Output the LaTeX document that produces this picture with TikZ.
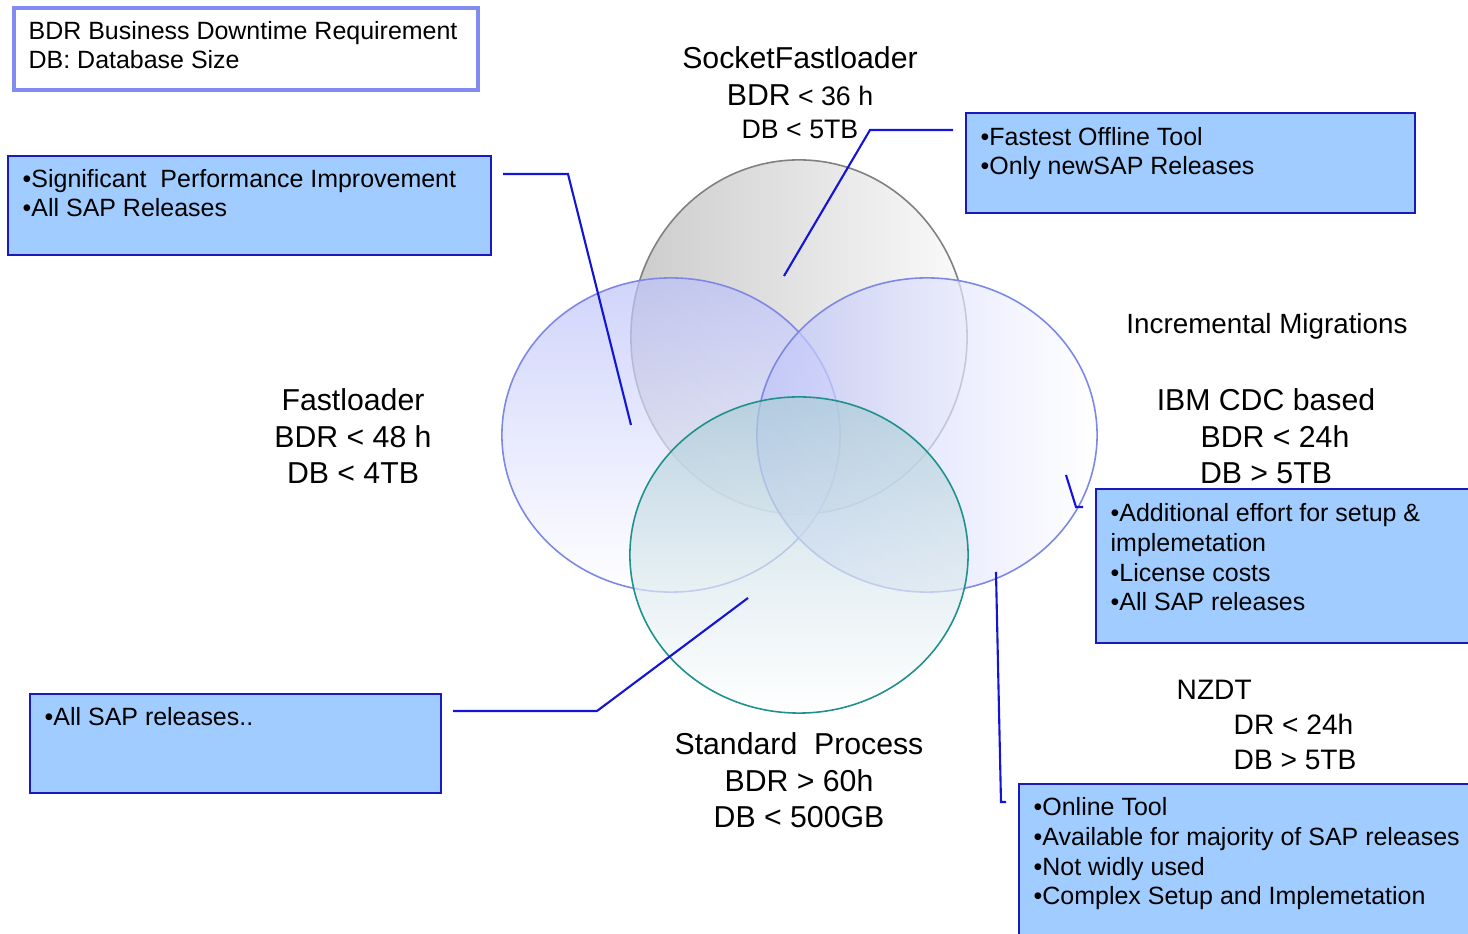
\documentclass[tikz,border=0pt]{standalone}
\usepackage{fontspec}
\setmainfont{Liberation Sans}
\usetikzlibrary{positioning}
\definecolor{boxfill}{RGB}{160,204,255}
\definecolor{boxline}{RGB}{25,25,190}
\definecolor{wirecol}{RGB}{20,20,215}
\definecolor{legline}{RGB}{130,140,240}
\definecolor{ringblue}{RGB}{125,135,230}
\definecolor{fillblue}{RGB}{188,194,250}
\definecolor{ringteal}{RGB}{30,145,140}
\definecolor{fillteal}{RGB}{172,204,216}
\tikzset{
 infobox/.style={draw=boxline,fill=boxfill,line width=0.6pt,anchor=north west,inner sep=0pt},
 infotext/.style={anchor=base west,align=left,inner sep=0pt,font=\fontsize{7.1}{8.5}\selectfont},
 tag/.style={anchor=base,align=center,inner sep=0pt,font=\fontsize{8.6}{10.5}\selectfont},
 wire/.style={draw=wirecol,line width=0.6pt},
 ring/.style={line width=0.45pt,fill opacity=0.7}
}
\begin{document}
\begin{tikzpicture}[x=0.01cm,y=-0.01cm]
\useasboundingbox (0,0) rectangle (1468,934);

\draw[ring,fill opacity=1,draw=black!50,left color=black!20,right color=black!2] (799,337) ellipse [x radius=1.68cm,y radius=1.77cm];
\draw[ring,draw=ringblue,top color=fillblue,bottom color=white] (671,435) ellipse [x radius=1.69cm,y radius=1.57cm];
\draw[ring,draw=ringblue,left color=fillblue,right color=white] (927,435) ellipse [x radius=1.70cm,y radius=1.57cm];
\draw[ring,draw=ringteal,top color=fillteal,bottom color=white] (799,555) ellipse [x radius=1.69cm,y radius=1.58cm];

\node[infobox,draw=legline,fill=white,line width=1.2pt,minimum width=4.64cm,minimum height=0.82cm] (legend) at (12,6) {};
\node[infotext] (legendtxt) at ([shift={(16,63)}]legend.north west) {BDR Business Downtime Requirement\\DB: Database Size};

\node[infobox,minimum width=4.83cm,minimum height=0.99cm] (fastbox) at (7,155) {};
\node[infotext] (fasttxt) at ([shift={(15,62)}]fastbox.north west) {•Significant~ Performance Improvement\\•All SAP Releases};
\node[infobox,minimum width=4.49cm,minimum height=1.00cm] (socketbox) at (965,112) {};
\node[infotext] (sockettxt) at ([shift={(15,63)}]socketbox.north west) {•Fastest Offline Tool\\•Only newSAP Releases};
\node[infobox,minimum width=3.80cm,minimum height=1.54cm] (cdcbox) at (1095,488) {};
\node[infotext] (cdctxt) at ([shift={(15,123)}]cdcbox.north west) {•Additional effort for setup \&\\implemetation\\•License costs\\•All SAP releases};
\node[infobox,minimum width=4.11cm,minimum height=0.99cm] (stdbox) at (29,693) {};
\node[infotext] (stdtxt) at ([shift={(15,33)}]stdbox.north west) {•All SAP releases..};
\node[infobox,minimum width=4.60cm,minimum height=1.60cm] (nzdtbox) at (1018,783) {};
\node[infotext] (nzdttxt) at ([shift={(15,122)}]nzdtbox.north west) {•Online Tool\\•Available for majority of SAP releases\\•Not widly used\\•Complex Setup and Implemetation};

\node[tag,font=\fontsize{8.6}{10.6}\selectfont] (socket) at (800,139) {SocketFastloader\\BDR{\fontsize{7.6}{9}\selectfont{} < 36 h}\\[-1.1pt]\fontsize{7.6}{9.4}\selectfont DB < 5TB};
\node[tag] (fast) at (353,484) {Fastloader\\BDR < 48 h\\DB < 4TB};
\node[tag,font=\fontsize{7.9}{10}\selectfont] (incr) at (1267,334) {Incremental Migrations};
\node[tag] (cdc) at (1266,484) {IBM CDC based\\\hspace*{0.18cm}BDR < 24h\\DB > 5TB};
\node[tag] (std) at (799,828) {Standard~ Process\\BDR > 60h\\DB < 500GB};
\node[tag,anchor=base west,font=\fontsize{8}{10}\selectfont] (nzdt) at (1176,700) {NZDT};
\node[tag,anchor=base west,align=left,font=\fontsize{8}{10}\selectfont] (nzdtval) at (1233,770) {DR < 24h\\DB > 5TB};

\coordinate (a1) at (503,174); \coordinate (a2) at (568,174); \coordinate (a3) at (631,425);
\coordinate (b1) at (953,130); \coordinate (b2) at (870,130); \coordinate (b3) at (784,276);
\coordinate (c1) at (1066,475); \coordinate (c2) at (1076,507); \coordinate (c3) at (1083,507);
\coordinate (d1) at (453,711); \coordinate (d2) at (597,711); \coordinate (d3) at (748,598);
\coordinate (e1) at (996,572); \coordinate (e2) at (1001,802); \coordinate (e3) at (1006,802);
\draw[wire] (a1)--(a2)--(a3);
\draw[wire] (b1)--(b2)--(b3);
\draw[wire] (c1)--(c2)--(c3);
\draw[wire] (d1)--(d2)--(d3);
\draw[wire] (e1)--(e2)--(e3);
\end{tikzpicture}
\end{document}
